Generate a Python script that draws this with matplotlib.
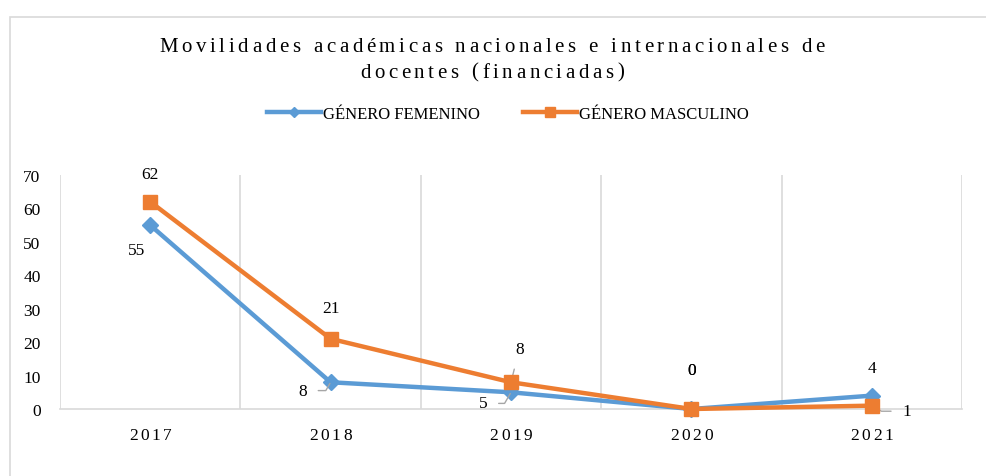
import matplotlib
matplotlib.use("Agg")
import matplotlib.pyplot as plt
from matplotlib.patches import Rectangle

years = ["2017", "2018", "2019", "2020", "2021"]
femenino = [55, 8, 5, 0, 4]
masculino = [62, 21, 8, 0, 1]
yticks = [0, 10, 20, 30, 40, 50, 60, 70]
title_lines = ["Movilidades académicas nacionales e internacionales de", "docentes (financiadas)"]
legend_labels = ["GÉNERO FEMENINO", "GÉNERO MASCULINO"]

BLUE = "#5B9BD5"
ORANGE = "#ED7D31"
W, H = 987, 477
plt.rcParams['font.family'] = ['Liberation Serif', 'DejaVu Serif']

fig = plt.figure(figsize=(W / 100, H / 100), dpi=100)
fig.patch.set_facecolor("white")
fig.add_artist(Rectangle((10 / W, -0.1), 1.1, 1 - 18 / H + 0.1, transform=fig.transFigure,
                         fill=False, edgecolor="#D9D9D9", lw=1.2))

ax = fig.add_axes([60 / W, 1 - 410 / H, (962 - 60) / W, (410 - 176) / H])
x = list(range(len(years)))
ax.plot(x, femenino, color=BLUE, lw=3.2, marker="D", ms=8, zorder=3, clip_on=False)
ax.plot(x, masculino, color=ORANGE, lw=3.2, marker="s", ms=10, zorder=4, clip_on=False)
ax.set_xlim(-0.5, 4.5)
ax.set_ylim(0, 70)
ax.set_yticks(yticks)
ax.set_yticklabels([str(v) for v in yticks], fontsize=12.5)
ax.set_xticks(x)
ax.set_xticklabels([""] * len(years))
ax.tick_params(length=0, pad=14)
for s in ["top", "left", "right"]:
    ax.spines[s].set_visible(False)
ax.spines["bottom"].set_color("#D9D9D9")
ax.spines["bottom"].set_linewidth(1.2)
for b in [-0.5, 0.5, 1.5, 2.5, 3.5, 4.5]:
    ax.axvline(b, color="#D9D9D9", lw=1.2, zorder=0)

fig.canvas.draw()
renderer = fig.canvas.get_renderer()


def spaced_text(xc, yc, s, size, track, transform, va="center"):
    widths = []
    for ch in s:
        t = fig.text(0, 0, ch if ch != " " else "n", fontsize=size)
        bb = t.get_window_extent(renderer)
        widths.append(bb.width * (0.55 if ch == " " else 1.0))
        t.remove()
    total = sum(widths) + track * (len(s) - 1)
    px, py = transform.transform((xc, yc))
    cur = px - total / 2
    for ch, w in zip(s, widths):
        if ch != " ":
            fig.text(cur / W, py / H, ch, fontsize=size, ha="left", va=va)
        cur += w + track


ident = matplotlib.transforms.IdentityTransform()
spaced_text(492, H - 47, title_lines[0], 15, 3.6, ident)
spaced_text(492, H - 73, title_lines[1], 15, 3.6, ident)

for i, yr in enumerate(years):
    px, _ = ax.transData.transform((i, 0))
    spaced_text(px, H - 436, yr, 12.5, 2.6, ident)

from matplotlib.lines import Line2D
handles = [Line2D([], [], color=BLUE, lw=3.2, marker="D", ms=5),
           Line2D([], [], color=ORANGE, lw=3.2, marker="s", ms=7)]
fig.legend(handles, legend_labels, loc="center", bbox_to_anchor=(508 / W, 1 - 115 / H), ncol=2,
           frameon=False, fontsize=12, handlelength=3.2, columnspacing=2.6, handletextpad=0.15)

lbl = dict(fontsize=12.5, ha="center", va="center")
gray = "#A6A6A6"
ax.annotate("62", (0, 62), xytext=(0, 20), textcoords="offset points", **lbl)
ax.annotate("55", (0, 55), xytext=(-10, -18), textcoords="offset points", **lbl)
ax.annotate("21", (1, 21), xytext=(0, 22), textcoords="offset points", **lbl)
ax.annotate("8", (1, 8), xytext=(-20, -6), textcoords="offset points",
            arrowprops=dict(arrowstyle="-", color=gray, lw=1,
                            connectionstyle="angle,angleA=0,angleB=60,rad=0", shrinkA=6, shrinkB=1), **lbl)
ax.annotate("5", (2, 5), xytext=(-20, -8), textcoords="offset points",
            arrowprops=dict(arrowstyle="-", color=gray, lw=1,
                            connectionstyle="angle,angleA=0,angleB=60,rad=0", shrinkA=6, shrinkB=1), **lbl)
ax.annotate("8", (2, 8), xytext=(6, 24), textcoords="offset points",
            arrowprops=dict(arrowstyle="-", color=gray, lw=1, shrinkA=7, shrinkB=1), **lbl)
ax.annotate("0", (3, 0), xytext=(0, 28), textcoords="offset points", **lbl)
ax.annotate("0", (3, 0), xytext=(0, 28), textcoords="offset points", **lbl)
ax.annotate("4", (4, 4), xytext=(0, 20), textcoords="offset points", **lbl)
ax.annotate("1", (4, 1), xytext=(25, -4), textcoords="offset points",
            arrowprops=dict(arrowstyle="-", color=gray, lw=1,
                            connectionstyle="angle,angleA=0,angleB=-30,rad=0", shrinkA=6, shrinkB=1), **lbl)

fig.savefig("out.png", dpi=100, facecolor="white")
